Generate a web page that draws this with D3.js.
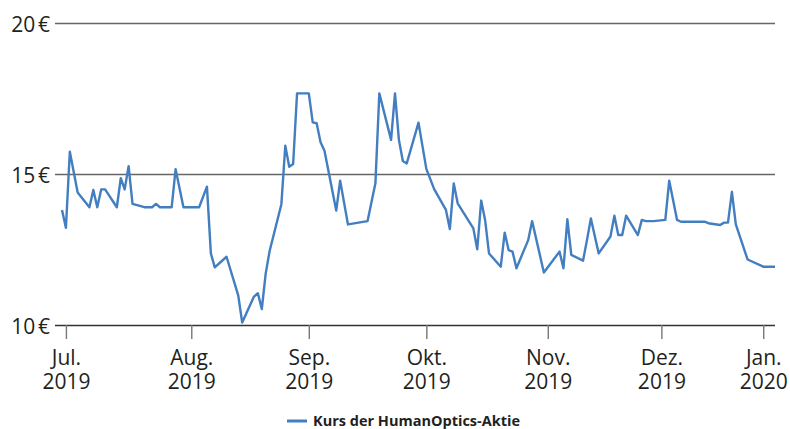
<!DOCTYPE html>
<html>
<head>
<meta charset="utf-8">
<script src="https://cdnjs.cloudflare.com/ajax/libs/d3/7.8.5/d3.min.js"></script>
<style>
  body { margin: 0; background: #fff; }
  text { font-family: "Open Sans", sans-serif; fill: #231f20; }
</style>
</head>
<body>
<svg width="790" height="429"></svg>
<script>
// trading days with a price (Jul - Dec 2019)
var dates = [
  "2019-07-01","2019-07-02","2019-07-03","2019-07-05","2019-07-08","2019-07-09","2019-07-10","2019-07-11","2019-07-12",
  "2019-07-15","2019-07-16","2019-07-17","2019-07-18","2019-07-19","2019-07-22","2019-07-24","2019-07-25","2019-07-26",
  "2019-07-29","2019-07-30","2019-08-01","2019-08-05","2019-08-07","2019-08-08","2019-08-09","2019-08-12","2019-08-15",
  "2019-08-16","2019-08-19","2019-08-20","2019-08-21","2019-08-22","2019-08-23","2019-08-26","2019-08-27","2019-08-28",
  "2019-08-29","2019-08-30","2019-09-02","2019-09-03","2019-09-04","2019-09-05","2019-09-06","2019-09-09","2019-09-10",
  "2019-09-12","2019-09-17","2019-09-19","2019-09-20","2019-09-23","2019-09-24","2019-09-25","2019-09-26","2019-09-27",
  "2019-09-30","2019-10-02","2019-10-04","2019-10-07","2019-10-08","2019-10-09","2019-10-10","2019-10-14","2019-10-15",
  "2019-10-16","2019-10-17","2019-10-18","2019-10-21","2019-10-22","2019-10-23","2019-10-24","2019-10-25","2019-10-28",
  "2019-10-29","2019-11-01","2019-11-05","2019-11-06","2019-11-07","2019-11-08","2019-11-11","2019-11-12","2019-11-13",
  "2019-11-15","2019-11-18","2019-11-19","2019-11-20","2019-11-21","2019-11-22","2019-11-25","2019-11-26","2019-11-27",
  "2019-11-29","2019-12-02","2019-12-03","2019-12-05","2019-12-06","2019-12-12","2019-12-13","2019-12-16","2019-12-17",
  "2019-12-18","2019-12-19","2019-12-20","2019-12-23","2019-12-27","2019-12-30"
];
var kurs = [
  13.81,13.22,15.74,14.39,13.90,14.47,13.90,14.49,14.49,
  13.90,14.86,14.49,15.26,14.01,13.90,13.90,14.01,13.90,
  13.90,15.16,13.90,13.90,14.58,12.37,11.91,12.26,10.97,
  10.08,10.94,11.05,10.53,11.71,12.45,14.00,15.94,15.24,
  15.33,17.67,17.67,16.71,16.68,16.05,15.77,13.79,14.78,
  13.33,13.44,14.69,17.67,16.13,17.67,16.13,15.43,15.35,
  16.70,15.17,14.50,13.81,13.18,14.69,14.03,13.20,12.51,
  14.12,13.48,12.37,11.93,13.06,12.48,12.43,11.88,12.81,
  13.44,11.74,12.43,11.88,13.50,12.32,12.13,12.81,13.53,
  12.37,12.93,13.62,12.98,12.98,13.62,12.98,13.48,13.44,
  13.44,13.48,14.78,13.48,13.42,13.42,13.37,13.31,13.39,
  13.39,14.41,13.33,12.17,11.93,11.93
];

var yTicks = [10, 15, 20];
// month ticks sit where the reference draws them
var monthTicks = ["2019-07-02","2019-08-03","2019-09-02","2019-10-02","2019-11-02","2019-12-01","2019-12-27"];
var monthNames = ["Jul.","Aug.","Sep.","Okt.","Nov.","Dez.","Jan."];
var monthYears = ["2019","2019","2019","2019","2019","2019","2020"];
var seriesName = "Kurs der HumanOptics-Aktie";

var parse = d3.timeParse("%Y-%m-%d");
var data = dates.map(function(d, i) { return { date: parse(d), value: kurs[i] }; });

var plotLeft = 55, plotRight = 775, plotTop = 23, plotBottom = 325;
var blue = "#427ec0";

var svg = d3.select("svg");

var x = d3.scaleTime()
    .domain(d3.extent(data, function(d) { return d.date; }))
    .range([plotLeft + 7, plotRight]);

var y = d3.scaleLinear()
    .domain([10, 20])
    .range([plotBottom, plotTop]);

// horizontal grid + y labels
var grid = svg.append("g")
    .attr("transform", "translate(" + plotLeft + ",0)")
    .call(d3.axisLeft(y).tickValues(yTicks).tickSize(-(plotRight - plotLeft)).tickPadding(5)
      .tickFormat(function(d) { return d + "\u202f€"; }));
grid.select(".domain").remove();
grid.selectAll(".tick line")
    .attr("stroke", function(d) { return d == 10 ? "#333" : "#666"; })
    .attr("stroke-width", function(d) { return d == 10 ? 1.6 : 1.4; });
grid.selectAll(".tick text")
    .attr("x", -5)
    .attr("dy", "0.4em")
    .style("font-size", "21px");

// x axis ticks, labels on two lines
var xAxis = svg.append("g")
    .attr("transform", "translate(0," + plotBottom + ")")
    .call(d3.axisBottom(x).tickValues(monthTicks.map(parse)).tickSize(14).tickFormat(""));
xAxis.select(".domain").remove();
xAxis.selectAll(".tick text").remove();
xAxis.selectAll(".tick line").attr("stroke", "#777").attr("stroke-width", 1.4);

xAxis.selectAll(".tick").each(function(d, i) {
  var t = d3.select(this);
  t.append("text").attr("y", 40).attr("text-anchor", "middle")
    .style("font-size", "21px").text(monthNames[i]);
  t.append("text").attr("y", 64).attr("text-anchor", "middle")
    .style("font-size", "21px").text(monthYears[i]);
});

// price line
var line = d3.line()
    .x(function(d) { return x(d.date); })
    .y(function(d) { return y(d.value); });

svg.append("path")
    .datum(data)
    .attr("fill", "none")
    .attr("stroke", blue)
    .attr("stroke-width", 2.4)
    .attr("stroke-linejoin", "round")
    .attr("d", line);

// legend
var legend = svg.append("g").attr("transform", "translate(287,421)");
legend.append("line")
    .attr("x1", 0).attr("x2", 20)
    .attr("stroke", blue).attr("stroke-width", 3);
legend.append("text")
    .attr("x", 26)
    .attr("dy", "0.35em")
    .style("font-size", "14.5px")
    .style("font-weight", "bold")
    .text(seriesName);
</script>
</body>
</html>
